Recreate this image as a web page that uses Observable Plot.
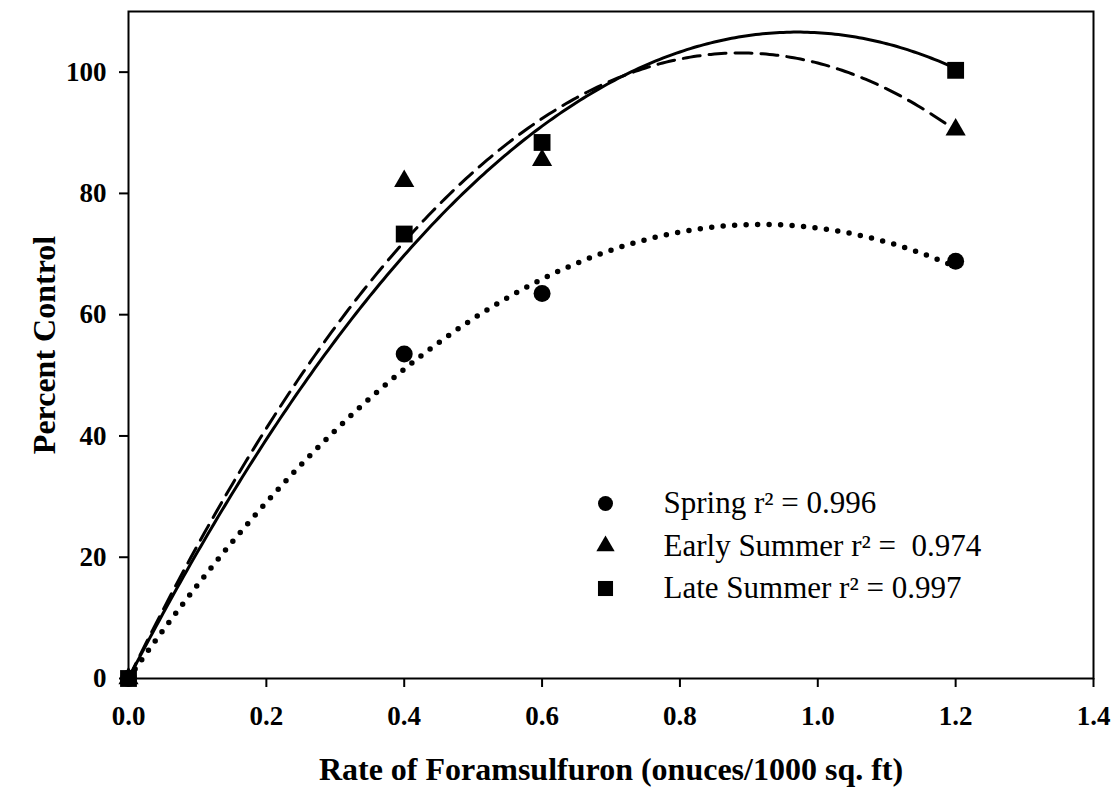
<!DOCTYPE html>
<html>
<head>
<meta charset="utf-8">
<script src="https://cdn.jsdelivr.net/npm/d3@7"></script>
<script src="https://cdn.jsdelivr.net/npm/@observablehq/plot@0.6"></script>
<style>
  html, body { margin: 0; padding: 0; background: #fff; }
  svg { font-family: "Liberation Serif", "Times New Roman", serif; }
</style>
</head>
<body>
<div id="chart"></div>
<script>
// Rates of Foramsulfuron (ounces / 1000 sq. ft)
const rates = [0, 0.4, 0.6, 1.2];
// Mean percent control per season
const spring = [0, 53.5, 63.5, 68.8];
const earlySummer = [0, 82.0, 85.5, 90.5];
const lateSummer = [0, 73.3, 88.4, 100.3];
// Quadratic fit coefficients y = a*x + b*x^2
const seriesNames = ["Spring", "Early Summer", "Late Summer"];
const fitA = [163.0, 232.5, 219.8];
const fitB = [-88.7, -131.0, -113.3];
const rSquared = ["0.996", " 0.974", "0.997"];
const xTicks = [0, 0.2, 0.4, 0.6, 0.8, 1.0, 1.2, 1.4];
const yTicks = [0, 20, 40, 60, 80, 100];

const values = [spring, earlySummer, lateSummer];
const symbols = ["circle", "triangle", "square"];
const symbolR = [8.5, 7.5, 9.5];
const legendR = [7.5, 6.8, 8.5];
const lineStyles = [
  {strokeWidth: 5.5, strokeDasharray: "0 11.5", strokeLinecap: "round"},
  {strokeWidth: 3, strokeDasharray: "17 9"},
  {strokeWidth: 3}
];

const points = seriesNames.map((name, s) => rates.map((x, i) => ({series: name, x, y: values[s][i]})));
const curveX = d3.range(0, 1.2001, 0.005);
const curves = seriesNames.map((name, s) => curveX.map(x => ({series: name, x, y: fitA[s] * x + fitB[s] * x * x})));

const marks = [];
curves.forEach((c, s) => {
  marks.push(Plot.line(c, {x: "x", y: "y", stroke: "black", curve: "linear", ...lineStyles[s]}));
});
points.forEach((p, s) => {
  marks.push(Plot.dot(p, {x: "x", y: "y", symbol: () => symbols[s], r: symbolR[s], fill: "black", stroke: "none"}));
});
// legend inside the plot
seriesNames.forEach((name, s) => {
  marks.push(Plot.dot([name], {frameAnchor: "top-left", dx: 477, dy: 492 + 42.5 * s, symbol: () => symbols[s], r: legendR[s], fill: "black"}));
  marks.push(Plot.text([name], {
    frameAnchor: "top-left", dx: 535, dy: 492 + 42.5 * s,
    text: d => `${d} r² = ${rSquared[s]}`,
    textAnchor: "start", lineAnchor: "middle",
    fontSize: 31, fill: "black", fontFamily: "Liberation Serif", style: "white-space: pre"
  }));
});

marks.push(Plot.frame({stroke: "black", strokeWidth: 2}));
marks.push(Plot.axisX(xTicks, {tickSize: 9, tickPadding: 18, tickFormat: d3.format(".1f"), fontSize: 27, fontWeight: "bold", strokeWidth: 2, label: null}));
marks.push(Plot.axisY(yTicks, {tickSize: 9, tickPadding: 13, fontSize: 27, fontWeight: "bold", strokeWidth: 2, label: null}));
marks.push(Plot.text(["Rate of Foramsulfuron (onuces/1000 sq. ft)"], {
  frameAnchor: "bottom", dy: 101, text: d => d, fontSize: 32, fontWeight: "bold", fill: "black", lineAnchor: "bottom", textAnchor: "middle"
}));
marks.push(Plot.text(["Percent Control"], {
  frameAnchor: "left", dx: -84, text: d => d, rotate: -90, fontSize: 32, fontWeight: "bold", fill: "black", lineAnchor: "middle", textAnchor: "middle"
}));

const chart = Plot.plot({
  width: 1112,
  height: 789,
  marginLeft: 128,
  marginRight: 19,
  marginTop: 11,
  marginBottom: 111,
  style: {fontFamily: "Liberation Serif", color: "black", background: "white", overflow: "visible"},
  x: {domain: [0, 1.4]},
  y: {domain: [0, 110]},
  marks
});
document.getElementById("chart").appendChild(chart);
</script>
</body>
</html>
